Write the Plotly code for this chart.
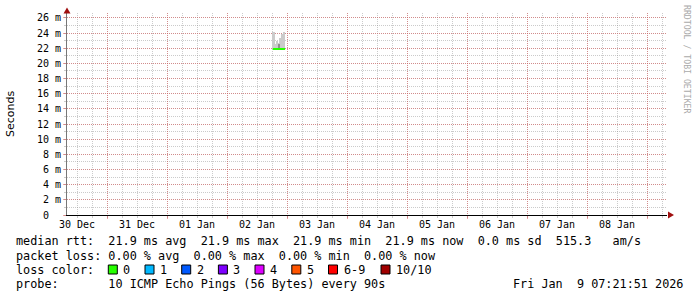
import plotly.graph_objects as go
import pandas as pd

# ---------------- data ----------------
x_range = ["2025-12-30 08:00", "2026-01-09 08:00"]
day_label_times = ["2025-12-30 12:00", "2025-12-31 12:00", "2026-01-01 12:00",
                   "2026-01-02 12:00", "2026-01-03 12:00", "2026-01-04 12:00",
                   "2026-01-05 12:00", "2026-01-06 12:00", "2026-01-07 12:00",
                   "2026-01-08 12:00"]
day_labels = ["30 Dec", "31 Dec", "01 Jan", "02 Jan", "03 Jan",
              "04 Jan", "05 Jan", "06 Jan", "07 Jan", "08 Jan"]

y_tick_vals = [0, 2, 4, 6, 8, 10, 12, 14, 16, 18, 20, 22, 24, 26]
y_tick_text = ["0\u00a0\u00a0", "2 m", "4 m", "6 m", "8 m", "10 m", "12 m", "14 m",
               "16 m", "18 m", "20 m", "22 m", "24 m", "26 m"]

step_minutes = 42
smoke_times = ["2026-01-02 18:20", "2026-01-02 19:02", "2026-01-02 19:44",
               "2026-01-02 20:26", "2026-01-02 21:08", "2026-01-02 21:50",
               "2026-01-02 22:32"]
smoke_lo = [21.9, 21.9, 21.9, 21.9, 21.9, 21.9, 21.9]
smoke_hi = [24.1, 22.6, 22.9, 22.7, 23.3, 23.9, 24.1]
core_lo = [None, None, None, 22.0, None, None, None]
core_hi = [None, None, None, 22.6, None, None, None]
median_rtt = [21.9, 21.9, 21.9, 21.9, 21.9, 21.9, 21.9]

loss_labels = ["0", "1", "2", "3", "4", "5", "6-9", "10/10"]
loss_colors = ["#26ff00", "#00b8ff", "#0059ff", "#7e00ff", "#dd00ff",
               "#ff5500", "#ff0000", "#a10000"]

legend_lines = [
    "median rtt:  21.9 ms avg  21.9 ms max  21.9 ms min  21.9 ms now  0.0 ms sd  515.3   am/s",
    "packet loss: 0.00 % avg  0.00 % max  0.00 % min  0.00 % now",
    "loss color:",
    "probe:       10 ICMP Echo Pings (56 Bytes) every 90s",
]
timestamp_text = "Fri Jan  9 07:21:51 2026"

# ---------------- geometry helpers ----------------
W, H = 697, 297
PX0, PW = 67, 600
PY_BOT, PH = 215, 202


def px(x):
    return (x - PX0) / PW


def py(y):
    return (PY_BOT - y) / PH


def nb(s):
    return s.replace(" ", "\u00a0")


MONO = "DejaVu Sans Mono"
MGRID = "rgba(215,90,90,0.55)"
GRID = "rgba(140,140,140,0.45)"

step = pd.Timedelta(minutes=step_minutes)
t_starts = pd.to_datetime(smoke_times)
step_ms = step.total_seconds() * 1000

fig = go.Figure()

# light smoke
fig.add_trace(go.Bar(
    x=t_starts, y=[h - l for h, l in zip(smoke_hi, smoke_lo)], base=smoke_lo,
    width=step_ms, offset=0, marker=dict(color="#cbcbcb", line=dict(width=0)),
    showlegend=False, hoverinfo="skip"))
# dense core
fig.add_trace(go.Bar(
    x=t_starts,
    y=[(h - l) if h is not None else None for h, l in zip(core_hi, core_lo)],
    base=core_lo, width=step_ms, offset=0,
    marker=dict(color="#8f8f8f", line=dict(width=0)),
    showlegend=False, hoverinfo="skip"))
# median line
med_x = list(t_starts) + [t_starts[-1] + step]
med_y = median_rtt + [median_rtt[-1]]
fig.add_trace(go.Scatter(
    x=med_x, y=med_y, mode="lines", line=dict(color="#26ff00", width=2, shape="hv"),
    showlegend=False, hoverinfo="skip", xaxis="x2"))

fig.update_layout(
    width=W, height=H,
    margin=dict(l=PX0, r=W - PX0 - PW, t=PY_BOT - PH, b=H - PY_BOT),
    paper_bgcolor="white", plot_bgcolor="white",
    barmode="overlay", bargap=0,
    showlegend=False,
    font=dict(family=MONO, size=10, color="black"),
    xaxis=dict(
        type="date", range=x_range,
        tickmode="array", tickvals=day_label_times, ticktext=day_labels,
        tickfont=dict(family=MONO, size=10, color="black"),
        showgrid=False, zeroline=False, ticks="",
        showline=True, linecolor="black", linewidth=1,
        minor=dict(tickmode="linear", tick0="2025-12-30 00:00", dtick=6 * 3600 * 1000,
                   showgrid=True, gridcolor=GRID, griddash="1px,1px", gridwidth=1,
                   ticks="outside", ticklen=2, tickcolor=GRID),
        fixedrange=True,
    ),
    xaxis2=dict(
        type="date", range=x_range, overlaying="x", side="bottom", anchor="y",
        tickmode="linear", tick0="2025-12-31 00:00", dtick=86400000,
        showticklabels=False, showgrid=True, gridcolor=MGRID, griddash="1px,1px",
        gridwidth=1, zeroline=False, showline=False,
        ticks="outside", ticklen=3, tickcolor=MGRID,
    ),
    yaxis=dict(
        range=[0, (PH) / 7.58],
        tickmode="array", tickvals=y_tick_vals, ticktext=y_tick_text,
        tickfont=dict(family=MONO, size=10, color="black"),
        showgrid=True, gridcolor=MGRID, griddash="1px,1px", gridwidth=1,
        zeroline=False, showline=True, linecolor="#777777", linewidth=1,
        ticks="outside", ticklen=3, tickcolor=MGRID,
        minor=dict(tickmode="linear", tick0=0, dtick=1, showgrid=True,
                   gridcolor=GRID, griddash="1px,1px", gridwidth=1,
                   ticks="outside", ticklen=2, tickcolor=GRID),
        fixedrange=True,
    ),
)

shapes = []
# axis arrows
shapes.append(dict(type="path", xref="paper", yref="paper",
                   path=f"M {px(63.5)},{py(13.5)} L {px(70.5)},{py(13.5)} L {px(67)},{py(7.5)} Z",
                   fillcolor="#a01010", line=dict(width=0)))
shapes.append(dict(type="path", xref="paper", yref="paper",
                   path=f"M {px(668)},{py(211.5)} L {px(668)},{py(218.5)} L {px(674)},{py(215)} Z",
                   fillcolor="#a01010", line=dict(width=0)))

annotations = []
# y axis title
annotations.append(dict(text="Seconds", xref="paper", yref="paper", x=px(10), y=py(114),
                        xanchor="center", yanchor="middle", textangle=-90, showarrow=False,
                        font=dict(family="DejaVu Sans", size=11, color="black")))
# watermark
annotations.append(dict(text=nb("RRDTOOL / TOBI OETIKER"), xref="paper", yref="paper",
                        x=px(687), y=py(59), xanchor="center", yanchor="middle",
                        textangle=90, showarrow=False,
                        font=dict(family=MONO, size=8.2, color="#aaaaaa")))

line_y = [241.5, 255.5, 269.5, 283.5]
for txt, yy in zip(legend_lines, line_y):
    annotations.append(dict(text=nb(txt), xref="paper", yref="paper", x=px(14), y=py(yy),
                            xanchor="left", yanchor="middle", showarrow=False,
                            font=dict(family=MONO, size=11.8, color="black")))
annotations.append(dict(text=nb(timestamp_text), xref="paper", yref="paper",
                        x=px(511), y=py(283.5), xanchor="left", yanchor="middle",
                        showarrow=False, font=dict(family=MONO, size=11.8, color="black")))

box_x = [108.3, 145, 181.7, 218.4, 255, 291.8, 328.5, 381]
for bx, lab, col in zip(box_x, loss_labels, loss_colors):
    shapes.append(dict(type="rect", xref="paper", yref="paper",
                       x0=px(bx), x1=px(bx + 9), y0=py(265), y1=py(274),
                       fillcolor=col, line=dict(color="black", width=1)))
    annotations.append(dict(text=nb(lab), xref="paper", yref="paper", x=px(bx + 13),
                            y=py(269.5), xanchor="left", yanchor="middle", showarrow=False,
                            font=dict(family=MONO, size=11.8, color="black")))

fig.update_layout(shapes=shapes, annotations=annotations)

fig.write_html("out.html")
